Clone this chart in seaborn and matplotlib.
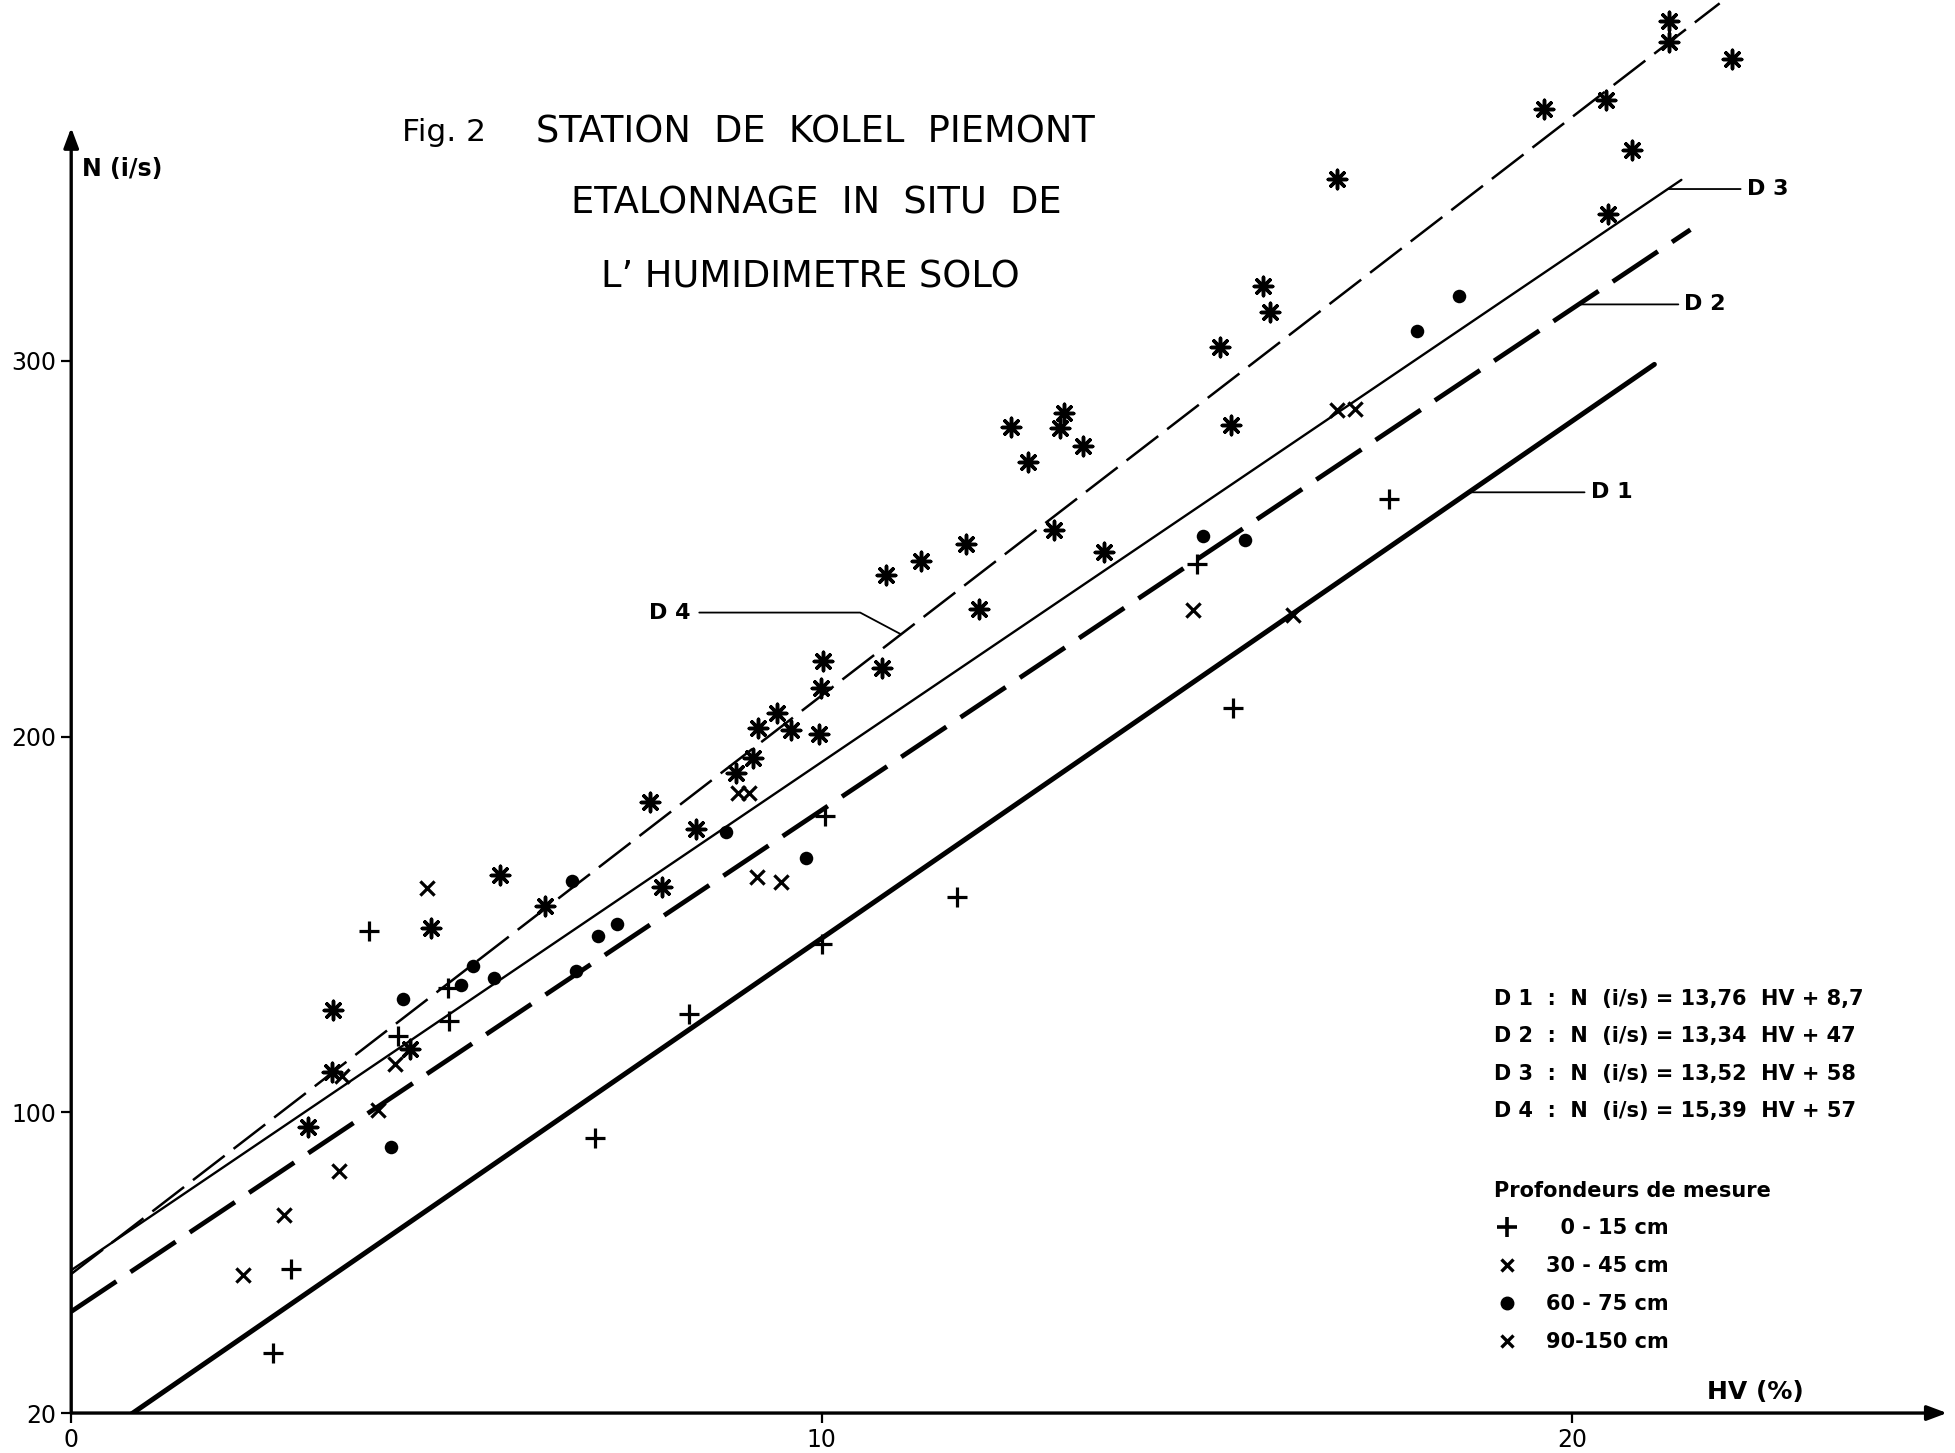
import numpy as np
import pandas as pd
import matplotlib.pyplot as plt
from matplotlib.lines import Line2D
import seaborn as sns

# --------------------------------
# DATA
# --------------------------------

# 0 - 15 cm
hv_0_15 = [2.69, 2.93, 3.97, 4.36, 5.02, 5.04, 6.98, 8.23, 10.04, 10.01,
           11.80, 15.01, 15.48, 17.56]
n_0_15 = [36.0, 58.3, 148.3, 120.3, 133.0, 124.3, 93.3, 126.3, 179.0, 144.7,
          157.3, 246.0, 207.7, 263.3]

# 30 - 45 cm
hv_30_45 = [2.29, 2.83, 3.57, 4.09, 4.31, 3.61, 4.74, 8.89, 9.04, 9.14,
            9.46, 14.95, 16.29, 16.87, 17.11]
n_30_45 = [56.7, 72.7, 84.3, 100.7, 113.0, 109.7, 159.7, 185.0, 185.0, 162.7,
           161.3, 233.7, 232.3, 287.0, 287.3]

# 60 - 75 cm
hv_60_75 = [4.26, 4.42, 5.20, 5.35, 5.64, 6.68, 7.02, 7.27, 6.73, 8.73,
            9.79, 15.08, 15.64, 17.94, 18.49]
n_60_75 = [90.7, 130.3, 134.0, 139.0, 135.7, 161.7, 147.0, 150.0, 137.7, 174.7,
           167.7, 253.3, 252.3, 308.0, 317.3]

# 90 - 150 cm
hv_90_150 = [3.16, 3.47, 4.52, 3.49, 4.79, 5.72, 6.32, 7.71, 8.33, 7.88,
             8.86, 9.09, 9.16, 9.41, 9.59, 9.96, 9.99, 10.02, 10.81, 10.86,
             11.32, 11.92, 12.10, 13.10, 13.77, 12.52, 12.75, 13.23, 13.18, 13.48,
             15.46, 15.31, 15.98, 15.88, 16.87, 20.48, 20.80, 19.63, 20.45, 21.30,
             21.30, 22.13]
n_90_150 = [96.0, 110.7, 117.0, 127.3, 149.0, 163.3, 155.0, 182.7, 175.3, 160.0,
            190.3, 194.3, 202.3, 206.3, 201.7, 200.7, 213.0, 220.0, 218.3, 243.0,
            246.7, 251.3, 234.0, 255.0, 249.0, 282.3, 273.0, 286.0, 282.0, 277.3,
            283.0, 303.7, 313.0, 320.0, 348.3, 339.0, 356.0, 367.0, 369.3, 390.3,
            384.7, 380.3]

depth_labels = ["  0 - 15 cm", "30 - 45 cm", "60 - 75 cm", "90-150 cm"]

# regression lines  N = a * HV + b
line_names = ["D 1", "D 2", "D 3", "D 4"]
slopes = [13.76, 13.34, 13.52, 15.39]
intercepts = [8.7, 47, 58, 57]
hv_end = [21.10, 21.58, 21.46, 21.97]

x_ticks = [0, 10, 20]
y_ticks = [20, 100, 200, 300]

# --------------------------------
# STYLE
# --------------------------------

sns.set_style("white")
plt.rcParams["font.family"] = ["DejaVu Sans"]
plt.rcParams["text.color"] = "black"
plt.rcParams["xtick.color"] = "black"
plt.rcParams["ytick.color"] = "black"

narrow = ["Liberation Sans Narrow", "DejaVu Sans"]

fig = plt.figure(figsize=(19.56, 14.53), dpi=100)

ax = fig.add_axes([0.0364, 0.0275, 0.9636, 0.9725])
ax.set_xlim(0, 25.12)
ax.set_ylim(20, 396)

for side in ["left", "right", "top", "bottom"]:
    ax.spines[side].set_visible(False)

# --------------------------------
# POINTS
# --------------------------------

frames = []
for lab, hv, n in zip(
    depth_labels,
    [hv_0_15, hv_30_45, hv_60_75, hv_90_150],
    [n_0_15, n_30_45, n_60_75, n_90_150]
):
    frames.append(pd.DataFrame({"HV": hv, "N": n, "prof": lab}))

df = pd.concat(frames, ignore_index=True)

marker_style = {
    depth_labels[0]: dict(marker="+", s=190, linewidth=2.3),
    depth_labels[1]: dict(marker="x", s=105, linewidth=2.3),
    depth_labels[2]: dict(marker="o", s=95, linewidth=0, edgecolor="black"),
    depth_labels[3]: dict(marker=(8, 2, 0), s=175, linewidth=2.5),
}

for lab in depth_labels:
    sns.scatterplot(
        data=df[df["prof"] == lab],
        x="HV",
        y="N",
        color="black",
        legend=False,
        ax=ax,
        zorder=3,
        **marker_style[lab]
    )

# --------------------------------
# REGRESSION LINES
# --------------------------------

line_styles = [
    dict(lw=3.6, ls="-"),
    dict(lw=3.4, ls=(0, (11.5, 3.6))),
    dict(lw=1.7, ls="-"),
    dict(lw=1.8, ls=(0, (16, 4.5))),
]

for a, b, end, st in zip(slopes, intercepts, hv_end, line_styles):
    hv_line = np.array([0.0, end])
    sns.lineplot(
        x=hv_line,
        y=a * hv_line + b,
        color="black",
        ax=ax,
        zorder=2,
        **st
    )

# line labels with leaders
label_hv = [20.25, 21.5, 22.33, 7.7]
label_n = [265, 315, 345.7, 233]

for i, name in enumerate(line_names):
    a, b = slopes[i], intercepts[i]
    if i < 3:
        anchor = ((label_n[i] - b) / a, label_n[i])
        props = dict(arrowstyle="-", lw=1.3, color="black",
                     shrinkA=2, shrinkB=0, relpos=(0, 0.5))
    else:
        anchor = (11.06, a * 11.06 + b)
        props = dict(arrowstyle="-", lw=1.3, color="black",
                     shrinkA=4, shrinkB=0, relpos=(1, 0.5),
                     connectionstyle="angle,angleA=0,angleB=-28,rad=0")
    ax.annotate(
        name,
        xy=anchor,
        xytext=(label_hv[i], label_n[i]),
        ha="left",
        va="center",
        fontsize=16,
        fontweight="bold",
        arrowprops=props
    )

# --------------------------------
# AXES
# --------------------------------

ax.annotate(
    "", xy=(25.0, 20), xytext=(0, 20),
    arrowprops=dict(arrowstyle="-|>,head_length=1.2,head_width=0.45",
                    lw=2.4, color="black", shrinkA=0, shrinkB=0),
    annotation_clip=False
)
ax.annotate(
    "", xy=(0, 362), xytext=(0, 20),
    arrowprops=dict(arrowstyle="-|>,head_length=1.2,head_width=0.45",
                    lw=2.4, color="black", shrinkA=0, shrinkB=0),
    annotation_clip=False
)

ax.set_xticks(x_ticks)
ax.set_yticks(y_ticks)
ax.set_xticklabels([str(t) for t in x_ticks])
ax.set_yticklabels([str(t) for t in y_ticks])
ax.tick_params(axis="both", direction="out", length=7, width=1.6,
               colors="black", labelsize=17, pad=4,
               bottom=True, left=True)
for lbl in ax.get_xticklabels() + ax.get_yticklabels():
    lbl.set_family(narrow)

ax.set_xlabel("")
ax.set_ylabel("")
ax.text(0.15, 351, "N (i/s)", fontsize=17, fontweight="bold",
        ha="left", va="center")
ax.text(21.8, 22.5, "HV (%)", fontsize=18, fontweight="bold",
        ha="left", va="bottom", family=narrow)

# --------------------------------
# TITLE
# --------------------------------

fig.text(0.2054, 0.909, "Fig. 2", fontsize=22.5, va="center", ha="left")
fig.text(0.2742, 0.909, "STATION  DE  KOLEL  PIEMONT", fontsize=26.5,
         va="center", ha="left")
fig.text(0.2920, 0.860, "ETALONNAGE  IN  SITU  DE", fontsize=26.5,
         va="center", ha="left")
fig.text(0.3074, 0.8094, "L\u2019 HUMIDIMETRE SOLO", fontsize=26.5,
         va="center", ha="left")

# --------------------------------
# EQUATIONS + LEGEND
# --------------------------------


def fr(v):
    return f"{v:g}".replace(".", ",")


for i, name in enumerate(line_names):
    eq = f"{name}  :  N  (i/s) = {fr(slopes[i])}  HV + {fr(intercepts[i])}"
    fig.text(0.764, 0.3124 - i * 0.02575, eq, fontsize=15,
             fontweight="bold", va="center", ha="left")

handles = [
    Line2D([], [], ls="", marker="+", color="black", markersize=14, mew=2.6),
    Line2D([], [], ls="", marker="x", color="black", markersize=9, mew=2.4),
    Line2D([], [], ls="", marker="o", color="black", markersize=9),
    Line2D([], [], ls="", marker="x", color="black", markersize=9, mew=2.4),
]

leg = ax.legend(
    handles,
    depth_labels,
    title="Profondeurs de mesure",
    loc="upper left",
    bbox_to_anchor=(0.764, 0.1875),
    bbox_transform=fig.transFigure,
    frameon=False,
    borderpad=0,
    borderaxespad=0,
    handlelength=1.2,
    handletextpad=1.3,
    labelspacing=0.86,
    alignment="left",
    prop=dict(size=15, weight="bold"),
    title_fontproperties=dict(size=15, weight="bold"),
)

plt.savefig("out.png", dpi=100, facecolor="white")
